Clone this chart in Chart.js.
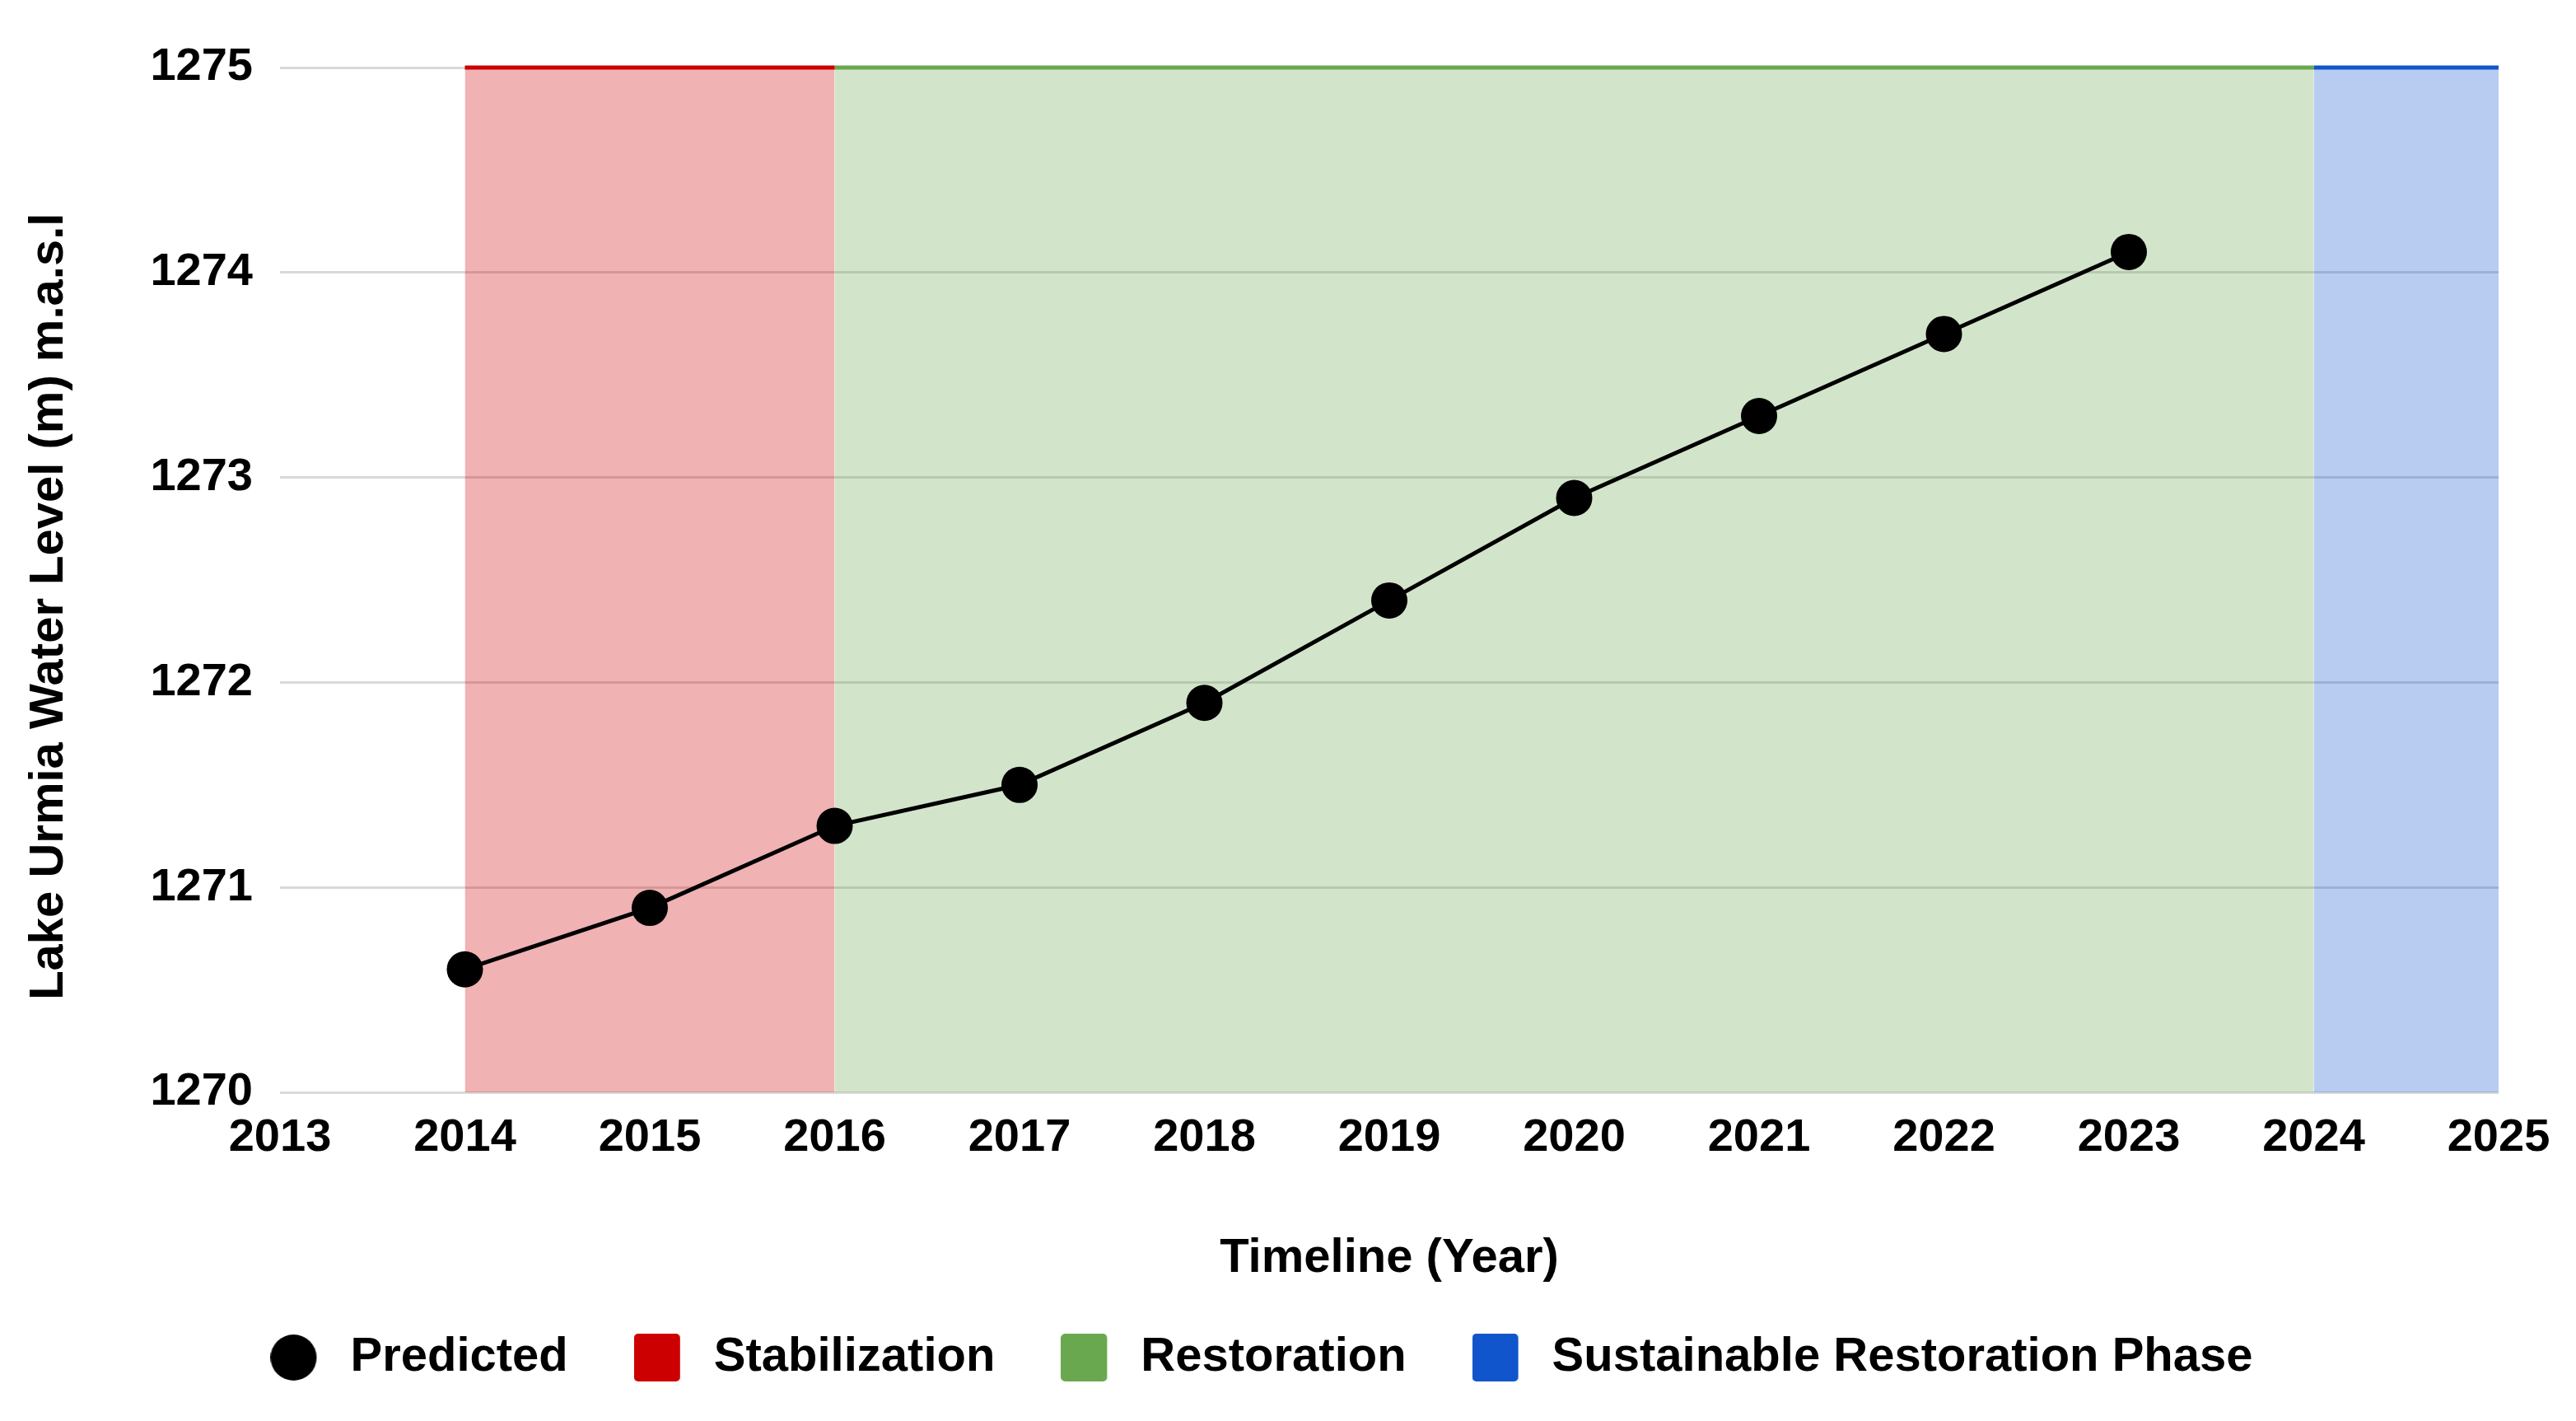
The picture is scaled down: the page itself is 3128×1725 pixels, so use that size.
<!DOCTYPE html>
<html lang="en">

<head>
    <meta charset="UTF-8">
    <meta name="viewport" content="width=device-width, initial-scale=1.0">
    <script src="https://cdn.jsdelivr.net/npm/chart.js@4.4.1/dist/chart.umd.min.js"></script>
    <title>Lake Urmia Water Level</title>
    <style>
        html, body { margin: 0; padding: 0; background: #fff; }
        .container { width: 3128px; height: 1725px; }
    </style>
</head>

<body>
    <div class="container">
        <canvas id="myChart" width="3128" height="1725"></canvas>
    </div>

    <script>
        // predicted water level per year (m a.s.l.)
        const years = [2014, 2015, 2016, 2017, 2018, 2019, 2020, 2021, 2022, 2023];
        const levels = [1270.6, 1270.9, 1271.3, 1271.5, 1271.9, 1272.4, 1272.9, 1273.3, 1273.7, 1274.1];

        // phases shown as shaded bands
        const phaseNames = ['Stabilization', 'Restoration', 'Sustainable Restoration Phase'];
        const phaseStart = [2014, 2016, 2024];
        const phaseEnd = [2016, 2024, 2025];
        const phaseColors = ['#cc0000', '#6aa84f', '#1155cc'];
        const phaseFills = ['rgba(204,0,0,0.3)', 'rgba(106,168,79,0.3)', 'rgba(17,85,204,0.3)'];

        const xTicks = [2013, 2014, 2015, 2016, 2017, 2018, 2019, 2020, 2021, 2022, 2023, 2024, 2025];
        const yTicks = [1270, 1271, 1272, 1273, 1274, 1275];

        Chart.defaults.font.family = "'Liberation Sans', Arial, sans-serif";
        Chart.defaults.font.weight = 'bold';
        Chart.defaults.font.size = 56;
        Chart.defaults.color = '#000';

        // legend swatches, drawn on small canvases so the sizes match
        const makeSwatch = (color, round) => {
            const c = document.createElement('canvas');
            c.width = 68;
            c.height = 58;
            const g = c.getContext('2d');
            g.fillStyle = color;
            g.beginPath();
            if (round) {
                g.arc(28, 29, 28, 0, Math.PI * 2);
            } else {
                g.roundRect(0, 0, 56, 58, 5);
            }
            g.fill();
            return c;
        };
        const swatches = [makeSwatch('#000', true)].concat(phaseColors.map(c => makeSwatch(c, false)));

        const datasets = [{
            label: 'Predicted',
            data: years.map((y, i) => ({ x: y, y: levels[i] })),
            borderColor: '#000',
            backgroundColor: '#000',
            borderWidth: 5,
            pointRadius: 22,
            pointHoverRadius: 22,
            pointBorderWidth: 0,
            fill: false,
            order: 0
        }];
        phaseNames.forEach((name, i) => {
            datasets.push({
                label: name,
                data: [{ x: phaseStart[i], y: yTicks[yTicks.length - 1] }, { x: phaseEnd[i], y: yTicks[yTicks.length - 1] }],
                borderColor: phaseColors[i],
                backgroundColor: phaseFills[i],
                borderWidth: 5,
                pointRadius: 0,
                fill: 'start',
                clip: 6,
                order: 1
            });
        });

        const ctx = document.getElementById('myChart').getContext('2d');
        const theChart = new Chart(ctx, {
            type: 'line',
            data: { datasets: datasets },
            options: {
                responsive: false,
                animation: false,
                layout: { padding: { left: 30, right: 94, top: 82, bottom: 38 } },
                plugins: {
                    tooltip: { enabled: false },
                    legend: {
                        position: 'bottom',
                        labels: {
                            usePointStyle: true,
                            pointStyleWidth: 68,
                            boxWidth: 56,
                            boxHeight: 58,
                            padding: 80,
                            font: { size: 58, weight: 'bold' },
                            generateLabels(chart) {
                                const items = Chart.defaults.plugins.legend.labels.generateLabels(chart);
                                items.forEach(it => { it.pointStyle = swatches[it.datasetIndex]; });
                                return items;
                            }
                        }
                    }
                },
                scales: {
                    x: {
                        type: 'linear',
                        min: xTicks[0],
                        max: xTicks[xTicks.length - 1],
                        afterBuildTicks: s => { s.ticks = xTicks.map(v => ({ value: v })); },
                        ticks: { padding: 22, callback: v => String(v) },
                        grid: { display: false, drawTicks: false },
                        border: { display: false },
                        title: {
                            display: true,
                            text: 'Timeline (Year)',
                            font: { size: 58, weight: 'bold' },
                            padding: { top: 0, bottom: -24 }
                        },
                        afterFit: s => { s.height = 213; }
                    },
                    y: {
                        min: yTicks[0],
                        max: yTicks[yTicks.length - 1],
                        afterBuildTicks: s => { s.ticks = yTicks.map(v => ({ value: v })); },
                        ticks: { padding: 33, callback: v => String(v) },
                        grid: { color: '#d9d9d9', lineWidth: 3, drawTicks: false },
                        border: { display: false },
                        title: {
                            display: true,
                            // trailing spaces nudge the rotated title down a little, as in the original
                            text: 'Lake Urmia Water Level (m) m.a.s.l    ',
                            font: { size: 58, weight: 'bold' },
                            padding: { top: -5, bottom: 0 }
                        },
                        afterFit: s => { s.width = 310; }
                    }
                }
            }
        });
    </script>
</body>

</html>
